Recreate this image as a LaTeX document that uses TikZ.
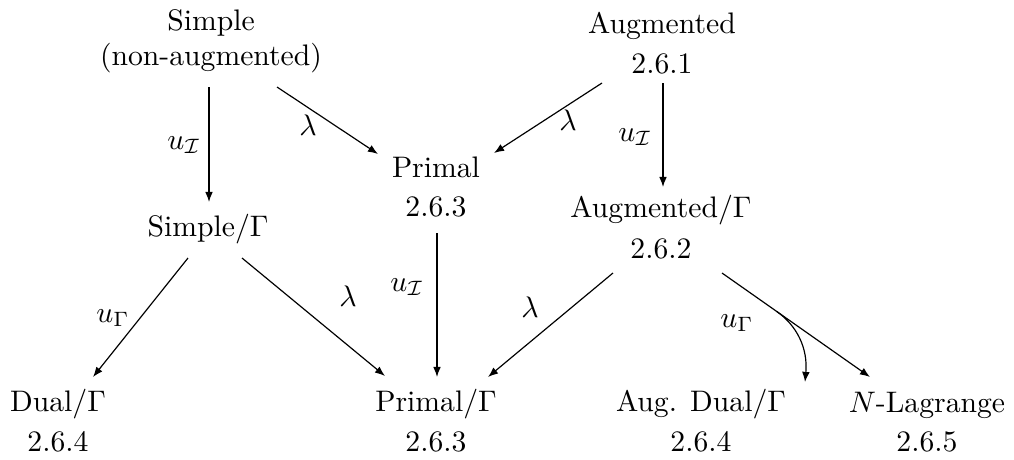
\documentclass[tikz,border=0pt]{standalone}
\usetikzlibrary{arrows.meta,calc}
\begin{document}
\begin{tikzpicture}[x=0.3367pt,y=-0.3367pt,
  box/.style={inner sep=0pt,outer sep=0pt,anchor=north,align=center},
  lbl/.style={inner sep=0pt},
  arr/.style={-{Latex[length=3.4pt,width=2.6pt]},line width=0.4pt}]
\useasboundingbox (0,0) rectangle (1014,459);
% nodes
\node[box] (simple)   at (211,9.4)   {Simple\\(non-augmented)};
\node[box] (aug)      at (662,12.4)  {Augmented\\[1.3pt]2.6.1};
\node[box] (primal)   at (436,156.4) {Primal\\[1.3pt]2.6.3};
\node[box] (simpleG)  at (208,214.7) {Simple/$\Gamma$};
\node[box] (augG)     at (661,195.7) {Augmented/$\Gamma$\\[1.8pt]2.6.2};
\node[box] (dualG)    at (58,389.7)  {Dual/$\Gamma$\\[1.3pt]2.6.4};
\node[box] (primalG)  at (436,389.7) {Primal/$\Gamma$\\[1.3pt]2.6.3};
\node[box] (augdualG) at (701,389.7) {Aug. Dual/$\Gamma$\\[1.3pt]2.6.4};
\node[box] (nlag)     at (927,391.7) {$N$-Lagrange\\[1.3pt]2.6.5};
% connectors
\draw[arr] ($(simple.north)+(-2,77.6)$) -- ($(simpleG.north)+(1,-12.7)$);
\draw[arr] ($(simple.north)+(66,77.6)$) -- ($(primal.north)+(-58,-2.4)$);
\draw[arr] ($(aug.north)+(-60,70.6)$) -- ($(primal.north)+(58,-3.4)$);
\draw[arr] ($(aug.north)+(1,70.6)$) -- ($(augG.north)+(2,-8.7)$);
\draw[arr] ($(simpleG.north)+(-20,43.3)$) -- ($(dualG.north)+(35,-12.7)$);
\draw[arr] ($(simpleG.north)+(34,43.3)$) -- ($(primalG.north)+(-51,-13.7)$);
\draw[arr] ($(primal.north)+(1,76.6)$) -- ($(primalG.north)+(1,-12.7)$);
\draw[arr] ($(augG.north)+(-48,77.3)$) -- ($(primalG.north)+(52,-12.7)$);
\coordinate (nA) at ($(augG.north)+(61,77.3)$);
\coordinate (nB) at ($(nlag.north)+(-57,-14.7)$);
\draw[arr] (nA) -- (nB);
\coordinate (cS) at ($(nA)!0.37!(nB)$);
\coordinate (cE) at ($(augdualG.north)+(104,-7.7)$);
\draw[arr] (cS) .. controls ($(cS)+(20,14)$) and ($(cE)+(3,-34)$) .. (cE);
% labels
\node[lbl] (l1) at (184,145) {$u_{\mathcal{I}}$};
\node[lbl] (l2) at (308,125) {$\lambda$};
\node[lbl] (l3) at (568,120) {$\lambda$};
\node[lbl] (l4) at (635,137) {$u_{\mathcal{I}}$};
\node[lbl] (l5) at (113,318) {$u_\Gamma$};
\node[lbl] (l6) at (348,296) {$\lambda$};
\node[lbl] (l7) at (407,287) {$u_{\mathcal{I}}$};
\node[lbl] (l8) at (530,307) {$\lambda$};
\node[lbl] (l9) at (737,323) {$u_\Gamma$};
\end{tikzpicture}
\end{document}
